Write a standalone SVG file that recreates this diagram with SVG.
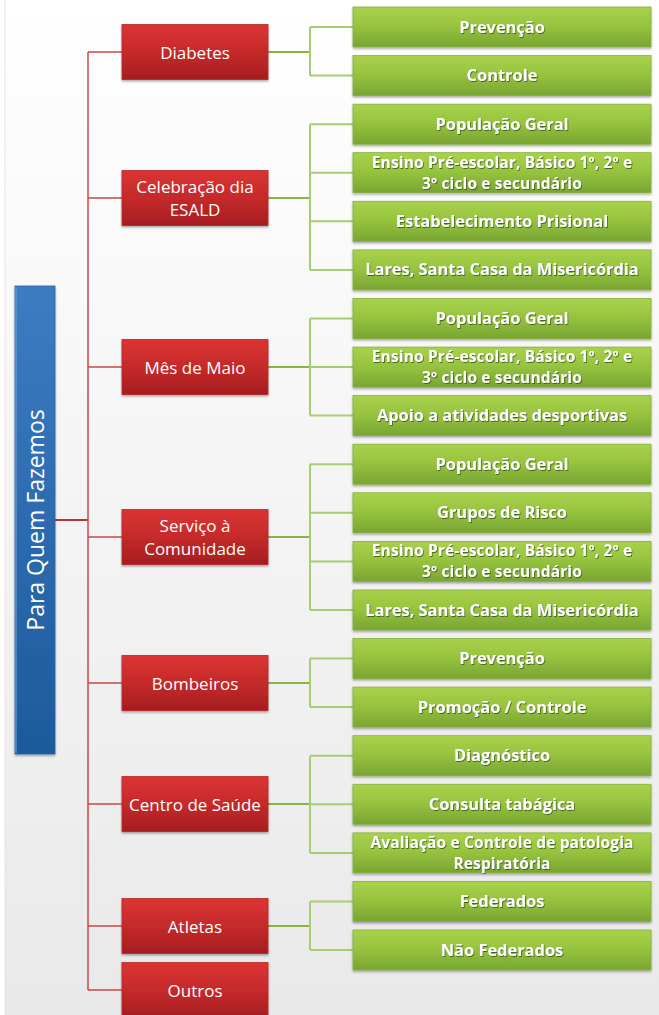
<svg xmlns="http://www.w3.org/2000/svg" width="659" height="1015" viewBox="0 0 659 1015">
<defs>
<linearGradient id="bg" x1="0" y1="0" x2="0" y2="1">
<stop offset="0" stop-color="#ffffff"/>
<stop offset="1" stop-color="#e9e9e9"/>
</linearGradient>
<linearGradient id="gRed" x1="0" y1="0" x2="0" y2="1">
<stop offset="0" stop-color="#dc3434"/>
<stop offset="0.5" stop-color="#c52a2a"/>
<stop offset="1" stop-color="#a51d1f"/>
</linearGradient>
<linearGradient id="gGreen" x1="0" y1="0" x2="0" y2="1">
<stop offset="0" stop-color="#a9d24b"/>
<stop offset="0.5" stop-color="#95c23e"/>
<stop offset="1" stop-color="#78a532"/>
</linearGradient>
<linearGradient id="gBlue" x1="0" y1="0" x2="0" y2="1">
<stop offset="0" stop-color="#3d7cc2"/>
<stop offset="1" stop-color="#1d5a9c"/>
</linearGradient>
<filter id="sh" x="-10%" y="-10%" width="120%" height="130%">
<feDropShadow dx="0" dy="1.5" stdDeviation="1" flood-color="#000" flood-opacity="0.35"/>
</filter>
<filter id="tsh" x="-5%" y="-20%" width="110%" height="150%">
<feDropShadow dx="0.8" dy="1" stdDeviation="0.6" flood-color="#2e4a10" flood-opacity="0.75"/>
</filter>
</defs>
<style>
.red rect{fill:url(#gRed);stroke:#b32828;stroke-width:0.8;filter:url(#sh)}
.green rect{fill:url(#gGreen);stroke:#86b03c;stroke-width:0.8;filter:url(#sh)}
.red text{font-family:"Open Sans","Noto Sans",sans-serif;font-size:17px;fill:#ffffff;text-anchor:middle;dominant-baseline:central}
.green text{font-family:"Open Sans","Noto Sans",sans-serif;font-size:16.4px;font-weight:bold;fill:#ffffff;text-anchor:middle;dominant-baseline:central;filter:url(#tsh)}
.green text.two{font-size:15.4px;letter-spacing:0.2px}
.rl{fill:none;stroke:#c8484a;stroke-width:1.5}
.gl{fill:none;stroke:#a6cd74;stroke-width:2}
.gs{fill:none;stroke:#8ab53e;stroke-width:2.2}
</style>
<rect x="0" y="0" width="659" height="1015" fill="#ffffff"/>
<rect x="5" y="0" width="654" height="1015" fill="url(#bg)"/>
<line x1="5" y1="0" x2="5" y2="1015" stroke="#e4e4e4" stroke-width="1"/>

<g id="connectors">
<line class="rl" x1="55" y1="520" x2="88" y2="520" style="stroke:#b93538;stroke-width:2"/>
<line class="rl" x1="88" y1="52" x2="88" y2="990"/>
<path class="rl" d="M88 52H122M88 198H122M88 367H122M88 537H122M88 683H122M88 804H122M88 926H122M88 990H122"/>
<path class="gs" d="M268 52H310M268 198H310M268 367H310M268 537H310M268 683H310M268 804H310M268 926H310"/>
<path class="gl" d="M310 27V75.6M310 124.2V269.9M310 318.5V415.6M310 464.2V610M310 658.5V707.1M310 755.7V852.9M310 901.4V950"/>
<path class="gl" d="M310 27H353M310 75.6H353M310 124.2H353M310 172.7H353M310 221.3H353M310 269.9H353M310 318.5H353M310 367.1H353M310 415.6H353M310 464.2H353M310 512.8H353M310 561.4H353M310 610H353M310 658.5H353M310 707.1H353M310 755.7H353M310 804.3H353M310 852.9H353M310 901.4H353M310 950H353"/>
</g>

<g id="root">
<rect x="15" y="286" width="40" height="468" fill="url(#gBlue)" stroke="#2a64a6" stroke-width="0.8" filter="url(#sh)"/>
<line x1="16" y1="287" x2="16" y2="753" stroke="#6a9fd6" stroke-width="1.2"/>
<text x="35" y="520" transform="rotate(-90 35 520)" font-family="'Open Sans','Noto Sans',sans-serif" font-size="23" fill="#ffffff" text-anchor="middle" dominant-baseline="central">Para Quem Fazemos</text>
</g>

<g id="n-diabetes" class="red"><rect x="122" y="24.5" width="146" height="55"/><text x="195" y="52">Diabetes</text></g>
<g id="n-celebracao" class="red"><rect x="122" y="170.5" width="146" height="55"/><text x="195" y="186.2">Celebração dia</text><text x="195" y="209.8">ESALD</text></g>
<g id="n-maio" class="red"><rect x="122" y="339.5" width="146" height="55"/><text x="195" y="367">Mês de Maio</text></g>
<g id="n-servico" class="red"><rect x="122" y="509.5" width="146" height="55"/><text x="195" y="525.2">Serviço à</text><text x="195" y="548.8">Comunidade</text></g>
<g id="n-bombeiros" class="red"><rect x="122" y="655.5" width="146" height="55"/><text x="195" y="683">Bombeiros</text></g>
<g id="n-centro" class="red"><rect x="122" y="776.5" width="146" height="55"/><text x="195" y="804">Centro de Saúde</text></g>
<g id="n-atletas" class="red"><rect x="122" y="898.5" width="146" height="55"/><text x="195" y="926">Atletas</text></g>
<g id="n-outros" class="red"><rect x="122" y="962.5" width="146" height="55"/><text x="195" y="990">Outros</text></g>

<g id="c0" class="green"><rect x="353" y="7" width="298" height="40"/><text x="502" y="26">Prevenção</text></g>
<g id="c1" class="green"><rect x="353" y="55.6" width="298" height="40"/><text x="502" y="74.6">Controle</text></g>
<g id="c2" class="green"><rect x="353" y="104.2" width="298" height="40"/><text x="502" y="123.2">População Geral</text></g>
<g id="c3" class="green"><rect x="353" y="152.7" width="298" height="40"/><text class="two" x="502" y="162">Ensino Pré-escolar, Básico 1º, 2º e</text><text class="two" x="502" y="183.2">3º ciclo e secundário</text></g>
<g id="c4" class="green"><rect x="353" y="201.3" width="298" height="40"/><text x="502" y="220.3">Estabelecimento Prisional</text></g>
<g id="c5" class="green"><rect x="353" y="249.9" width="298" height="40"/><text x="502" y="268.9">Lares, Santa Casa da Misericórdia</text></g>
<g id="c6" class="green"><rect x="353" y="298.5" width="298" height="40"/><text x="502" y="317.5">População Geral</text></g>
<g id="c7" class="green"><rect x="353" y="347.1" width="298" height="40"/><text class="two" x="502" y="356.4">Ensino Pré-escolar, Básico 1º, 2º e</text><text class="two" x="502" y="377.6">3º ciclo e secundário</text></g>
<g id="c8" class="green"><rect x="353" y="395.6" width="298" height="40"/><text x="502" y="414.6">Apoio a atividades desportivas</text></g>
<g id="c9" class="green"><rect x="353" y="444.2" width="298" height="40"/><text x="502" y="463.2">População Geral</text></g>
<g id="c10" class="green"><rect x="353" y="492.8" width="298" height="40"/><text x="502" y="511.8">Grupos de Risco</text></g>
<g id="c11" class="green"><rect x="353" y="541.4" width="298" height="40"/><text class="two" x="502" y="550.7">Ensino Pré-escolar, Básico 1º, 2º e</text><text class="two" x="502" y="571.9">3º ciclo e secundário</text></g>
<g id="c12" class="green"><rect x="353" y="590" width="298" height="40"/><text x="502" y="609">Lares, Santa Casa da Misericórdia</text></g>
<g id="c13" class="green"><rect x="353" y="638.5" width="298" height="40"/><text x="502" y="657.5">Prevenção</text></g>
<g id="c14" class="green"><rect x="353" y="687.1" width="298" height="40"/><text x="502" y="706.1">Promoção / Controle</text></g>
<g id="c15" class="green"><rect x="353" y="735.7" width="298" height="40"/><text x="502" y="754.7">Diagnóstico</text></g>
<g id="c16" class="green"><rect x="353" y="784.3" width="298" height="40"/><text x="502" y="803.3">Consulta tabágica</text></g>
<g id="c17" class="green"><rect x="353" y="832.9" width="298" height="40"/><text class="two" x="502" y="842.2">Avaliação e Controle de patologia</text><text class="two" x="502" y="863.4">Respiratória</text></g>
<g id="c18" class="green"><rect x="353" y="881.4" width="298" height="40"/><text x="502" y="900.4">Federados</text></g>
<g id="c19" class="green"><rect x="353" y="930" width="298" height="40"/><text x="502" y="949">Não Federados</text></g>
</svg>
